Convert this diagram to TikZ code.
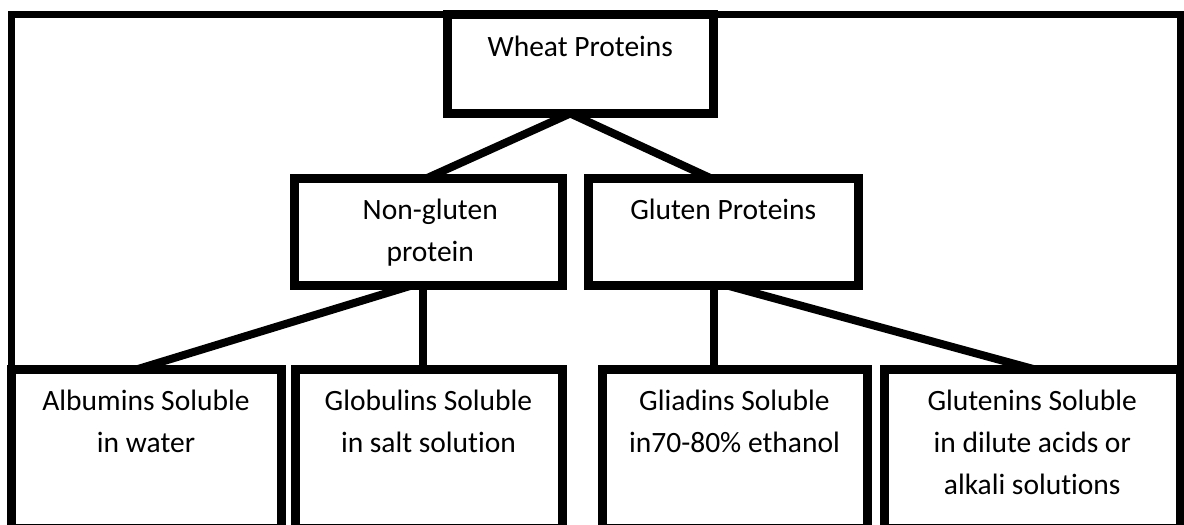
\documentclass[tikz,border=0pt]{standalone}
\usepackage{fontspec}
\setmainfont{Carlito}[Ligatures={NoCommon}]
\usetikzlibrary{backgrounds}
\begin{document}
\begin{tikzpicture}[x=1pt,y=-1pt,
  box/.style={draw=black, line width=9pt, fill=white, inner sep=0pt, outer sep=0pt},
  txt/.style={anchor=north, align=center, inner sep=0pt, font=\fontsize{29.5}{42}\selectfont, text=black},
  link/.style={line width=8pt, draw=black},
  frameline/.style={line width=7pt, draw=black}]
\useasboundingbox (0,0) rectangle (1184,525);
\clip (0,0) rectangle (1184,525);
\draw[frameline] (11,532) -- (11,14) -- (1180,14) -- (1180,532);
% boxes
\node[box, minimum width=266.5pt, minimum height=99pt] (wheat) at (580.25,64) {};
\node[box, minimum width=267.5pt, minimum height=107pt] (nong) at (428.25,231.5) {};
\node[box, minimum width=269.5pt, minimum height=107.5pt] (glut) at (723.25,231.75) {};
\node[box, minimum width=270pt, minimum height=159pt] (alb) at (146,448.5) {};
\node[box, minimum width=267pt, minimum height=159pt] (glob) at (428.5,448.5) {};
\node[box, minimum width=265pt, minimum height=159pt] (glia) at (734.5,448.5) {};
\node[box, minimum width=295.5pt, minimum height=159pt] (glute) at (1032.25,448.5) {};
% texts
\node[txt] (wheat-t) at ([yshift=-12pt]wheat.north) {\strut Wheat Proteins};
\node[txt] (nong-t) at ([yshift=-12pt,xshift=2pt]nong.north) {\strut Non-gluten\\protein};
\node[txt] (glut-t) at ([yshift=-12pt]glut.north) {\strut Gluten Proteins};
\node[txt] (alb-t) at ([yshift=-12pt]alb.north) {\strut Albumins Soluble\\in water};
\node[txt] (glob-t) at ([yshift=-12pt]glob.north) {\strut Globulins Soluble\\in salt solution};
\node[txt] (glia-t) at ([yshift=-12pt]glia.north) {\strut Gliadins Soluble\\in70-80\% ethanol};
\node[txt] (glute-t) at ([yshift=-12pt]glute.north) {\strut Glutenins Soluble\\in dilute acids or\\alkali solutions};
% connectors
\begin{scope}[on background layer]
\fill[white] (0,0) rectangle (1184,525);
\draw[link] ([xshift=-10pt]wheat.south) -- ([xshift=-1pt]nong.north);
\draw[link] ([xshift=-10pt]wheat.south) -- ([xshift=-13pt]glut.north);
\draw[link] ([xshift=-15pt]nong.south) -- ([xshift=-8pt]alb.north);
\draw[link] ([xshift=-5pt]nong.south) -- ([xshift=-5pt]nong.south |- glob.north);
\draw[link] ([xshift=-9pt]glut.south) -- ([xshift=-9pt]glut.south |- glia.north);
\draw[link] ([xshift=4pt]glut.south) -- ([xshift=1pt]glute.north);
\end{scope}
\end{tikzpicture}
\end{document}
